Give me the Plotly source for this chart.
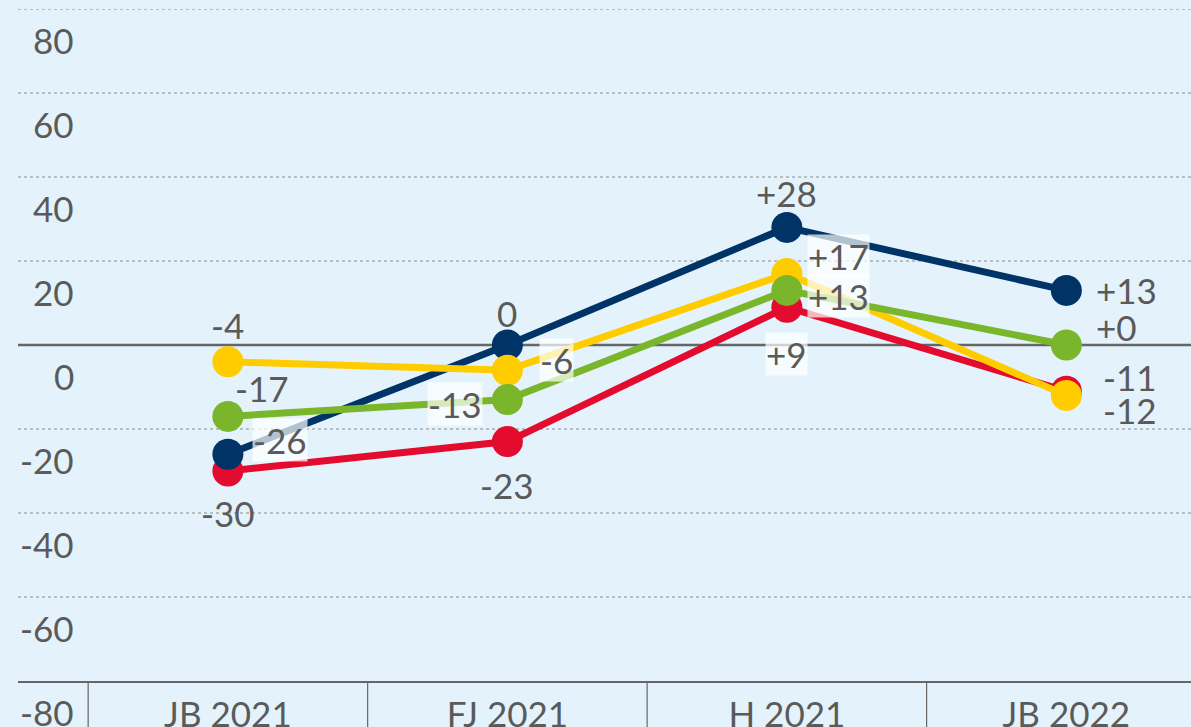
import plotly.graph_objects as go

periods = ["JB 2021", "FJ 2021", "H 2021", "JB 2022"]
navy = [-26, 0, 28, 13]
red = [-30, -23, 9, -11]
yellow = [-4, -6, 17, -12]
green = [-17, -13, 13, 0]
y_ticks = [80, 60, 40, 20, 0, -20, -40, -60, -80]

BG = "#e4f3fb"
TXT = "#5a5a5a"
FONT = "Lato"

# drawing order bottom -> top
series = [
    ("red", red, "#e30b2e"),
    ("navy", navy, "#003366"),
    ("yellow", yellow, "#ffcc00"),
    ("green", green, "#7ab62b"),
]

def fmt(i, v):
    return f"{v:+d}" if i >= 2 else str(v)

# label offsets in px (dx, dy, xanchor, boxed) per series and period
offsets = {
    "navy":   [(52, -14, "center", True), (0, -32, "center", False), (0, -34, "center", False), (29, 0, "left", False)],
    "red":    [(0, 42, "center", False), (0, 43, "center", False), (0, 47, "center", True), (36, -14, "left", False)],
    "yellow": [(0, -37, "center", False), (49, -10, "center", True), (52, -18, "center", True), (36, 15, "left", False)],
    "green":  [(34, -28, "center", False), (-52, 4, "center", True), (52, 6, "center", True), (29, -18, "left", False)],
}

fig = go.Figure()
for name, vals, col in series:
    fig.add_trace(go.Scatter(
        x=list(range(len(periods))), y=vals, mode="lines+markers", name=name,
        line=dict(color=col, width=7), marker=dict(color=col, size=31),
        hoverinfo="skip", showlegend=False,
    ))

annotations = []
for name, vals, col in series:
    for i, v in enumerate(vals):
        dx, dy, xa, boxed = offsets[name][i]
        annotations.append(dict(
            x=i, y=v, xref="x", yref="y", text=fmt(i, v), showarrow=False,
            xshift=dx, yshift=-dy, xanchor=xa, yanchor="middle",
            font=dict(family=FONT, size=35, color=TXT),
            bgcolor="rgba(255,255,255,0.7)" if boxed else None,
            borderpad=0,
        ))

for t in y_ticks:
    annotations.append(dict(
        x=(76 - 18) / (1191 - 18), y=t, xref="paper", yref="y", text=str(t),
        showarrow=False, xanchor="right", yanchor="middle", yshift=-31,
        font=dict(family=FONT, size=35, color=TXT),
    ))

shapes = []
for t in y_ticks[:-1]:
    if t == 0:
        continue
    shapes.append(dict(type="line", xref="paper", yref="y", x0=0, x1=1, y0=t, y1=t,
                       line=dict(color="#8a8a8a", width=1, dash="dot"), layer="below"))
shapes.append(dict(type="line", xref="paper", yref="y", x0=0, x1=1, y0=0, y1=0,
                   line=dict(color="#666666", width=2.5), layer="below"))
for k in range(len(periods)):
    shapes.append(dict(type="line", xref="x", yref="paper", x0=k - 0.5, x1=k - 0.5,
                       y0=0, y1=-0.08, line=dict(color="#666666", width=1.2)))

fig.update_layout(
    width=1191, height=727,
    margin=dict(l=18, r=0, t=9, b=46),
    paper_bgcolor=BG, plot_bgcolor=BG,
    font=dict(family=FONT, color=TXT),
    xaxis=dict(
        range=[-0.751, 3.446], tickmode="array", tickvals=list(range(len(periods))),
        ticktext=periods, showgrid=False, zeroline=False, showline=True,
        linecolor="#666666", linewidth=1.5, ticks="", automargin=False,
        tickfont=dict(family=FONT, size=35, color=TXT), ticklabelstandoff=2,
    ),
    yaxis=dict(range=[-80, 80], showgrid=False, zeroline=False, showticklabels=False,
               automargin=False),
    annotations=annotations, shapes=shapes,
)

fig.write_html("out.html", config={"displayModeBar": False},
               post_script="document.body.style.margin='0';")
